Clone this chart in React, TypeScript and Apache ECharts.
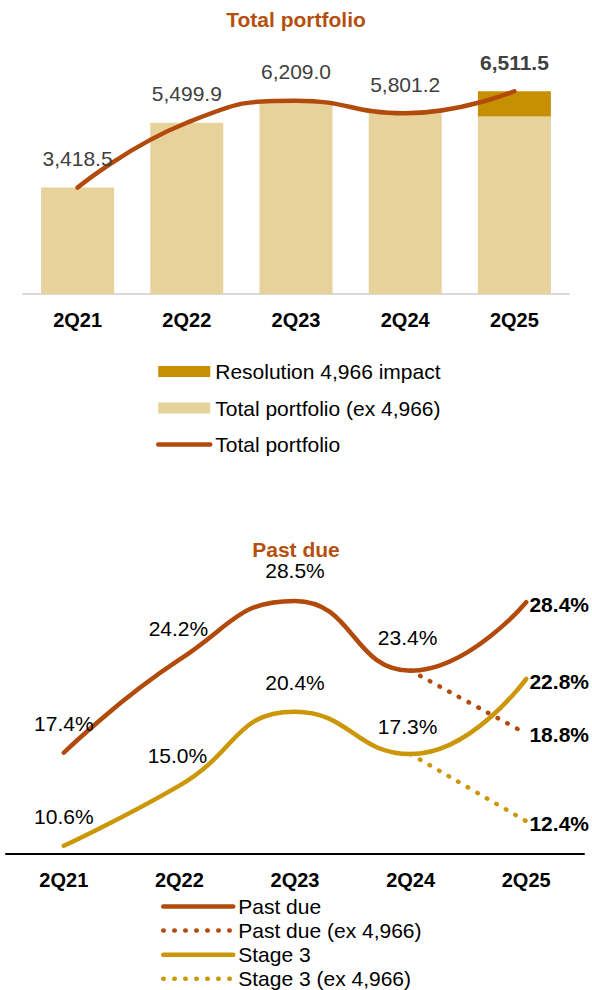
import React, { useEffect, useRef } from 'react';
import * as echarts from 'echarts';

const categories = ['2Q21', '2Q22', '2Q23', '2Q24', '2Q25'];
const totalPortfolio = [3418.5, 5499.9, 6209.0, 5801.2, 6511.5];
const portfolioEx = [3418.5, 5499.9, 6209.0, 5801.2, 5700.0];
const resolutionImpact = [null, null, null, null, 811.5];
const pastDue = [17.4, 24.2, 28.5, 23.4, 28.4];
const pastDueEx = [null, null, null, 23.4, 18.8];
const stage3 = [10.6, 15.0, 20.4, 17.3, 22.8];
const stage3Ex = [null, null, null, 17.3, 12.4];

const FONT = '"Liberation Sans", Arial, sans-serif';
const BROWN = '#B24A0C';
const TITLE_BROWN = '#B4500E';
const GOLD_DARK = '#C78F02';
const GOLD_LINE = '#CB9707';
const GOLD_LIGHT = '#E8D29B';

type Off = [number, number] | null;
const topOffsets: Off[] = [[0, -29], [0, -29], [0, -29], [0, -29], [0, -29]];
const topBold = [false, false, false, false, true];
const pastDueOffsets: Off[] = [[0, -29], [-1, -31], [0, -30], [-3, -33], [33, 2]];
const stage3Offsets: Off[] = [[0, -29], [-2, -30], [0, -29], [-3, -28], [33, 3]];
const pastDueExOffsets: Off[] = [null, null, null, null, [33, 1]];
const stage3ExOffsets: Off[] = [null, null, null, null, [33, 2]];
const bottomBold = [false, false, false, false, true];

const fmtThousands = (v: number) =>
  v.toLocaleString('en-US', { minimumFractionDigits: 1, maximumFractionDigits: 1 });
const fmtPct = (v: number) => v.toFixed(1) + '%';

function mkData(
  vals: (number | null)[],
  offsets: Off[],
  bolds: boolean[],
  fmt: (v: number) => string,
  color: string
) {
  return vals.map((v, i) => {
    if (v == null) return { value: '-' };
    const off = offsets[i];
    return {
      value: v,
      label: off
        ? {
            show: true,
            position: 'inside',
            offset: off,
            formatter: () => fmt(v),
            color,
            fontFamily: FONT,
            fontSize: 21,
            fontWeight: bolds[i] ? 'bold' : 'normal',
            textBorderWidth: 0,
          }
        : { show: false },
    };
  });
}

export default function App() {
  const ref = useRef<HTMLDivElement>(null);
  useEffect(() => {
    if (!ref.current) return;
    const chart = echarts.init(ref.current, undefined, { renderer: 'svg' });
    const hiddenSymbol = {
      symbol: 'circle',
      symbolSize: 1,
      itemStyle: { color: 'rgba(0,0,0,0)', borderWidth: 0 },
    };
    const solidLegendLine = { width: 4.5, cap: 'round' };
    chart.setOption({
      animation: false,
      backgroundColor: '#ffffff',
      textStyle: { fontFamily: FONT },
      title: [
        {
          text: 'Total portfolio',
          left: 'center',
          top: 8.5,
          padding: 0,
          textStyle: { color: TITLE_BROWN, fontSize: 21, fontWeight: 'bold', fontFamily: FONT },
        },
        {
          text: 'Past due',
          left: 'center',
          top: 538.5,
          padding: 0,
          textStyle: { color: TITLE_BROWN, fontSize: 21, fontWeight: 'bold', fontFamily: FONT },
        },
      ],
      legend: [
        {
          orient: 'vertical',
          left: 156,
          top: 361,
          height: 150,
          padding: 0,
          itemWidth: 52,
          itemHeight: 11,
          itemGap: 15.5,
          selectedMode: false,
          textStyle: { color: '#000', fontSize: 21, lineHeight: 21, fontFamily: FONT },
          data: [
            { name: 'Resolution 4,966 impact', icon: 'rect' },
            { name: 'Total portfolio (ex 4,966)', icon: 'rect' },
            { name: 'Total portfolio', lineStyle: solidLegendLine },
          ],
        },
        {
          orient: 'vertical',
          left: 161,
          top: 896,
          height: 200,
          padding: 0,
          itemWidth: 70,
          itemHeight: 10,
          itemGap: 3.1,
          selectedMode: false,
          textStyle: { color: '#000', fontSize: 21, lineHeight: 20, fontFamily: FONT },
          data: [
            { name: 'Past due', lineStyle: solidLegendLine },
            { name: 'Past due (ex 4,966)', lineStyle: { width: 4.5 } },
            { name: 'Stage 3', lineStyle: solidLegendLine },
            { name: 'Stage 3 (ex 4,966)', lineStyle: { width: 4.5 } },
          ],
        },
      ],
      grid: [
        { left: 23, width: 546, top: 76, height: 218 },
        { left: 6, width: 578, top: 553, height: 301 },
      ],
      xAxis: [
        {
          type: 'category',
          gridIndex: 0,
          data: categories,
          axisTick: { show: false },
          axisLine: { lineStyle: { color: '#D9D9D9', width: 2 } },
          axisLabel: { color: '#000', fontSize: 20, fontWeight: 'bold', fontFamily: FONT, margin: 16 },
        },
        {
          type: 'category',
          gridIndex: 1,
          data: categories,
          axisTick: { show: false },
          axisLine: { lineStyle: { color: '#000', width: 2 } },
          axisLabel: { color: '#000', fontSize: 20, fontWeight: 'bold', fontFamily: FONT, margin: 16 },
        },
      ],
      yAxis: [
        { type: 'value', gridIndex: 0, min: 0, max: 7000, show: false, splitLine: { show: false } },
        { type: 'value', gridIndex: 1, min: 10, max: 32, show: false, splitLine: { show: false } },
      ],
      series: [
        {
          name: 'Total portfolio (ex 4,966)',
          type: 'bar',
          xAxisIndex: 0,
          yAxisIndex: 0,
          stack: 'portfolio',
          barWidth: 73,
          itemStyle: { color: GOLD_LIGHT },
          data: portfolioEx,
        },
        {
          name: 'Resolution 4,966 impact',
          type: 'bar',
          xAxisIndex: 0,
          yAxisIndex: 0,
          stack: 'portfolio',
          barWidth: 73,
          itemStyle: { color: GOLD_DARK },
          data: resolutionImpact.map((v) => (v == null ? '-' : v)),
        },
        {
          name: 'Total portfolio',
          type: 'line',
          xAxisIndex: 0,
          yAxisIndex: 0,
          smooth: 0.5,
          z: 5,
          ...hiddenSymbol,
          lineStyle: { color: BROWN, width: 4.5, cap: 'round' },
          data: mkData(totalPortfolio, topOffsets, topBold, fmtThousands, '#404040'),
        },
        {
          name: 'Past due',
          type: 'line',
          xAxisIndex: 1,
          yAxisIndex: 1,
          smooth: 0.5,
          ...hiddenSymbol,
          lineStyle: { color: BROWN, width: 4.5, cap: 'round' },
          data: mkData(pastDue, pastDueOffsets, bottomBold, fmtPct, '#000'),
        },
        {
          name: 'Past due (ex 4,966)',
          type: 'line',
          xAxisIndex: 1,
          yAxisIndex: 1,
          smooth: 0.5,
          ...hiddenSymbol,
          lineStyle: { color: BROWN, width: 4.5, cap: 'round', type: [0.5, 10.5] },
          data: mkData(pastDueEx, pastDueExOffsets, bottomBold, fmtPct, '#000'),
        },
        {
          name: 'Stage 3',
          type: 'line',
          xAxisIndex: 1,
          yAxisIndex: 1,
          smooth: 0.5,
          ...hiddenSymbol,
          lineStyle: { color: GOLD_LINE, width: 4.5, cap: 'round' },
          data: mkData(stage3, stage3Offsets, bottomBold, fmtPct, '#000'),
        },
        {
          name: 'Stage 3 (ex 4,966)',
          type: 'line',
          xAxisIndex: 1,
          yAxisIndex: 1,
          smooth: 0.5,
          ...hiddenSymbol,
          lineStyle: { color: GOLD_LINE, width: 4.5, cap: 'round', type: [0.5, 10.5] },
          data: mkData(stage3Ex, stage3ExOffsets, bottomBold, fmtPct, '#000'),
        },
      ],
    });
    return () => chart.dispose();
  }, []);
  return (
    <div
      ref={ref}
      style={{ position: 'fixed', left: 0, top: 0, width: 592, height: 990, background: '#fff' }}
    />
  );
}
